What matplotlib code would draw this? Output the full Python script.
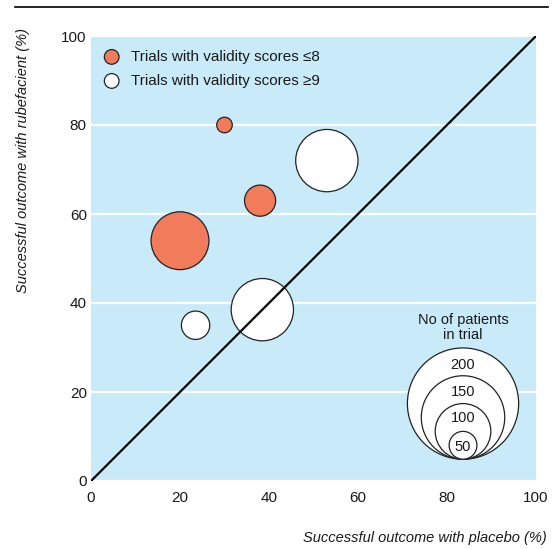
import matplotlib
matplotlib.use("Agg")
import matplotlib.pyplot as plt
from matplotlib.patches import Circle
from matplotlib.lines import Line2D

plt.rcParams['font.family'] = ['Liberation Sans', 'DejaVu Sans']

# Trials with validity scores <=8
placebo_low = [30, 38, 20]
rubefacient_low = [80, 63, 54]
patients_low = [28, 56, 104]

# Trials with validity scores >=9
placebo_high = [53, 38.5, 23.5]
rubefacient_high = [72, 38.5, 35]
patients_high = [112, 112, 51]

# Bubble size key
key_sizes = [200, 150, 100, 50]
ticks = [0, 20, 40, 60, 80, 100]

BLUE = '#C8EAF9'
ORANGE = '#F27B5C'
RADIUS_PER_PATIENT = 0.0625  # data units of radius per patient

fig = plt.figure(figsize=(5.59, 5.49), dpi=100)
ax = fig.add_axes([91 / 559, 1 - 481 / 549, 445 / 559, 445 / 549])
ax.set_facecolor(BLUE)
ax.set_xlim(0, 100)
ax.set_ylim(0, 100)
for s in ax.spines.values():
    s.set_visible(False)

ax.set_xticks(ticks)
ax.set_yticks(ticks)
ax.tick_params(axis='both', length=0, labelsize=11, colors='#1a1a1a')
ax.tick_params(axis='x', pad=7)
ax.tick_params(axis='y', pad=3)
ax.set_xticks([20, 40, 60, 80], minor=True)
ax.tick_params(axis='x', which='minor', direction='in', length=5, width=1.5, color='white')
ax.grid(axis='y', color='white', linewidth=1.6)
ax.set_axisbelow(True)

def bubble(x, y, n, color, z=3):
    ax.add_patch(Circle((x, y), n * RADIUS_PER_PATIENT, facecolor=color,
                        edgecolor='#222222', linewidth=0.9, zorder=z))

for x, y, n in zip(placebo_low, rubefacient_low, patients_low):
    bubble(x, y, n, ORANGE)
for x, y, n in zip(placebo_high, rubefacient_high, patients_high):
    bubble(x, y, n, 'white')

# Line of equality
ax.plot([0, 100], [0, 100], color='black', linewidth=1.6, zorder=5,
        solid_capstyle='butt')

# Legend for the two groups
for yy, col, lab in [(95.3, ORANGE, 'Trials with validity scores \u22648'),
                     (89.9, 'white', 'Trials with validity scores \u22659')]:
    ax.add_patch(Circle((4.65, yy), 1.65, facecolor=col, edgecolor='#222222',
                        linewidth=0.9, zorder=6))
    ax.text(9.0, yy, lab, fontsize=11, va='center', ha='left', color='#1a1a1a', zorder=6)

# Size key: nested circles resting on a common baseline
kx, kbase = 83.6, 4.9
for n in key_sizes:
    r = n * RADIUS_PER_PATIENT
    ax.add_patch(Circle((kx, kbase + r), r, facecolor='white', edgecolor='#222222',
                        linewidth=0.9, zorder=6))
for n, ly in zip(key_sizes, [26.1, 20.1, 14.2, 7.7]):
    ax.text(kx, ly, str(n), fontsize=10.5, ha='center', va='center',
            color='#1a1a1a', zorder=7)
ax.text(kx, 34.4, 'No of patients\nin trial', fontsize=10.5, ha='center',
        va='center', linespacing=1.1, color='#1a1a1a', zorder=7)

# Axis titles
fig.text(23 / 559, 1 - 28 / 549, 'Successful outcome with rubefacient (%)',
         rotation=90, ha='center', va='top', fontsize=10.5, style='italic',
         color='#1a1a1a')
fig.text(547 / 559, 1 - 538 / 549, 'Successful outcome with placebo (%)',
         ha='right', va='center', fontsize=10.5, style='italic', color='#1a1a1a')

# Rule across the top
fig.add_artist(Line2D([15 / 559, 548 / 559], [1 - 7.3 / 549, 1 - 7.3 / 549],
                      color='black', linewidth=1.2))

fig.savefig('out.png', dpi=100)
